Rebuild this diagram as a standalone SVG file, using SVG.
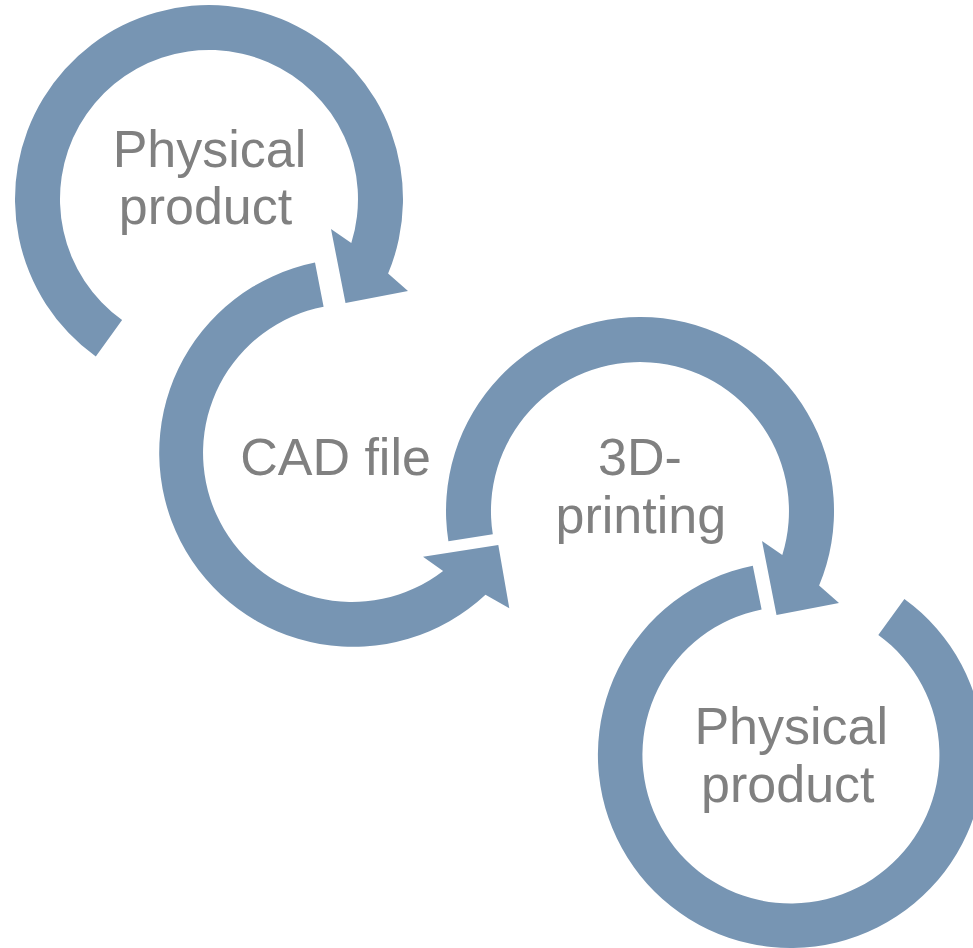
<svg xmlns="http://www.w3.org/2000/svg" width="973" height="948" viewBox="0 0 973 948">
  <style>
    .ring { fill: #7795B3; stroke: none; }
    .label { font-family: "Liberation Sans", Arial, sans-serif; font-size: 52px; fill: #808080; text-anchor: middle; }
  </style>
  <rect width="973" height="948" fill="#ffffff"/>
  <g id="connectors"></g>
  <g id="node-physical-product-1">
    <path class="ring" d="M95.8,356.6 A194,194 0 1 1 388.1,273.6 L408,291 L345.5,303 L331,229 L351.3,243.1 A149,149 0 1 0 122.1,320 Z"/>
    <text class="label" x="209.5" y="166.5">Physical</text>
    <text class="label" x="205.5" y="224">product</text>
  </g>
  <g id="node-cad-file">
    <path class="ring" d="M315,262.6 A194,194 0 1 0 485.5,594.7 L509.3,608.3 L498.3,545 L423,556.7 L443.1,570.9 A149,149 0 1 1 323.6,306.7 Z"/>
    <text class="label" x="335.5" y="475">CAD file</text>
  </g>
  <g id="node-3d-printing">
    <path class="ring" d="M448.4,541.3 A194,194 0 1 1 819.1,585.6 L839,603 L776.5,615 L762,541 L782.3,555.1 A149,149 0 1 0 492.8,534.3 Z"/>
    <text class="label" x="640" y="475">3D-</text>
    <text class="label" x="640.8" y="532.5">printing</text>
  </g>
  <g id="node-physical-product-2">
    <path class="ring" d="M752.8,565.8 A193,193 0 1 0 904.4,598.9 L878.3,634.9 A148.5,148.5 0 1 1 761.6,609.4 Z"/>
    <text class="label" x="791.2" y="744">Physical</text>
    <text class="label" x="787.8" y="801.7">product</text>
  </g>
</svg>
